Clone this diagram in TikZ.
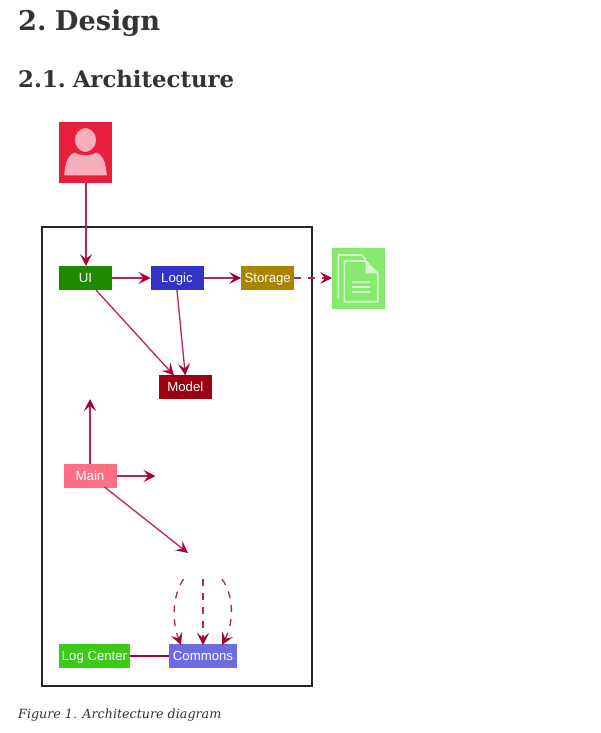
\documentclass[tikz,border=0pt]{standalone}
\usepackage{fontspec}
\setmainfont{DejaVu Serif}
\newfontfamily\headfont[WordSpace=0.55]{DejaVu Serif}
\newfontfamily\boxfont{Liberation Sans}
\usetikzlibrary{arrows.meta}
\definecolor{arrowc}{HTML}{A80036}
\definecolor{headc}{HTML}{333333}
\definecolor{userred}{HTML}{E81F3C}
\definecolor{userpale}{HTML}{F7AEBB}
\definecolor{filegreen}{HTML}{87EA6E}
\definecolor{filepale}{HTML}{D5F7CC}
\definecolor{uigreen}{HTML}{1F8A00}
\definecolor{logicblue}{HTML}{3333C4}
\definecolor{storagegold}{HTML}{A88400}
\definecolor{modelred}{HTML}{9D0012}
\definecolor{mainpink}{HTML}{FF6F84}
\definecolor{loggreen}{HTML}{3CC919}
\definecolor{commonsblue}{HTML}{6C6CDF}
\tikzset{
  box/.style={fill=#1,inner sep=0pt,outer sep=0pt,text=white,font=\boxfont\fontsize{13.2}{15}\selectfont,minimum height=24pt,minimum width=53pt,text height=9pt,text depth=0pt},
  conn/.style={draw=arrowc!85,line width=1.3pt,-{Stealth[length=12pt,width=12pt,inset=5pt,color=arrowc]}},
  dconn/.style={conn,dash pattern=on 7pt off 7pt},
  plainconn/.style={draw=arrowc,line width=1.2pt},
  heading/.style={anchor=base west,inner sep=0pt,text=headc},
  iconbox/.style={fill=#1,inner sep=0pt,outer sep=0pt,minimum width=53pt,minimum height=61pt},
  fileline/.style={draw=filepale,line width=1.6pt}
}
\begin{document}
\begin{tikzpicture}[x=1pt,y=-1pt]
\useasboundingbox (0,0) rectangle (600,733);
\fill[white] (0,0) rectangle (600,733);
% headings
\node[heading,font=\headfont\bfseries\fontsize{27.2}{32}\selectfont] (h1) at (18,31) {2. Design};
\node[heading,font=\headfont\bfseries\fontsize{22.8}{28}\selectfont] (h2) at (18,88) {2.1. Architecture};
\node[heading,font=\itshape\fontsize{12.7}{16}\selectfont] (cap) at (18,718.5) {Figure 1. Architecture diagram};
% frame
\node[draw=black!85,line width=1.7pt,minimum width=270pt,minimum height=459pt,inner sep=0pt] (frame) at (176.8,456.5) {};
% user icon
\node[iconbox=userred] (user) at (85.5,152.5) {};
\fill[userpale] (64.3,175.3) .. controls (65,165) and (67,155) .. (75,152.5) .. controls (79,156) and (92,156) .. (96,152.5) .. controls (104,155) and (106,165) .. (106.8,175.3) -- cycle;
\filldraw[fill=userpale,draw=userred,line width=1.2pt] (85.5,140) ellipse (11.2 and 12.6);
% file icon
\node[iconbox=filegreen] (file) at (358.7,278.7) {};
\draw[fileline] (338.3,298.3) -- (338.3,255) -- (361.7,255) -- (365.7,259.3);
\draw[fileline] (344.3,261) -- (365.7,261) -- (377.7,273.3) -- (377.7,301.7) -- (344.3,301.7) -- cycle;
\fill[filepale] (365.7,261) -- (377.7,273.3) -- (365.7,273.3) -- cycle;
\draw[fileline] (351.7,281.7) -- (370,281.7);
\draw[fileline] (351.7,286.7) -- (370,286.7);
\draw[fileline] (351.7,291.7) -- (370,291.7);
% boxes
\node[box=uigreen] (ui) at (85.5,278) {UI};
\node[box=logicblue] (logic) at (177,278) {Logic};
\node[box=storagegold] (storage) at (267.7,278) {Storage};
\node[box=modelred] (model) at (185.3,386.5) {Model};
\node[box=mainpink] (main) at (90,476) {Main};
\node[box=loggreen,minimum width=71pt] (log) at (94.5,656) {Log Center};
\node[box=commonsblue,minimum width=68.5pt] (commons) at (203,656) {Commons};
% free ends
\coordinate (ui-up) at (90,399);
\coordinate (main-right) at (155.5,476);
\coordinate (main-diag) at (188,553);
\coordinate (dl) at (183.5,579);
\coordinate (dm) at (203,579);
\coordinate (dr) at (222,579);
% connectors
\draw[conn] ([xshift=.4pt]user.south) -- ([xshift=.4pt]ui.north);
\draw[conn] (ui.east) -- (logic.west);
\draw[conn] (logic.east) -- (storage.west);
\draw[dconn] (storage.east) -- (file.west |- storage.east);
\draw[conn] ([xshift=10.5pt]ui.south) -- ([xshift=-11.3pt,yshift=-1pt]model.north);
\draw[conn] (logic.south) -- ([yshift=-1pt]model.north);
\draw[conn] (main.north) -- (ui-up);
\draw[conn] (main.east) -- (main-right);
\draw[conn] ([xshift=14.5pt,yshift=1pt]main.south) -- (main-diag);
\draw[dconn] (dl) .. controls (172,596) and (172,622) .. ([xshift=-22pt,yshift=-1pt]commons.north);
\draw[dconn] (dm) -- ([yshift=-1pt]commons.north);
\draw[dconn] (dr) .. controls (234,596) and (234,622) .. ([xshift=19pt,yshift=-1pt]commons.north);
\draw[plainconn] (log.east) -- (commons.west);
\end{tikzpicture}
\end{document}
